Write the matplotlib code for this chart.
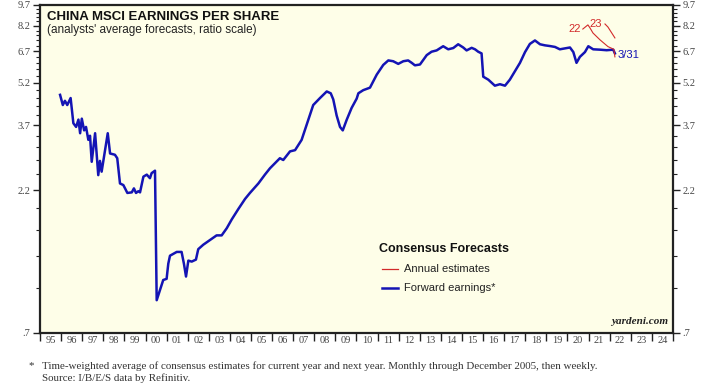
import numpy as np
import matplotlib
matplotlib.use("Agg")
import matplotlib.pyplot as plt
import matplotlib.ticker as ticker

# ── Data ──────────────────────────────────────────────────────────────────────
fwd_years = [1995.95, 1996.08, 1996.18, 1996.29, 1996.45, 1996.58, 1996.71, 1996.82,
             1996.90, 1996.98, 1997.09, 1997.18, 1997.29, 1997.37, 1997.45, 1997.61,
             1997.76, 1997.84, 1997.92, 1998.08, 1998.21, 1998.32, 1998.55, 1998.66,
             1998.79, 1998.95, 1999.14, 1999.35, 1999.45, 1999.55, 1999.66, 1999.74,
             1999.90, 2000.06, 2000.21, 2000.29, 2000.45, 2000.53, 2000.69, 2000.84,
             2001.00, 2001.08, 2001.16, 2001.48, 2001.71, 2001.82, 2001.92, 2002.03,
             2002.19, 2002.39, 2002.50, 2002.74, 2003.37, 2003.61, 2003.85, 2004.09,
             2004.40, 2004.72, 2004.95, 2005.35, 2005.66, 2005.90, 2006.37, 2006.53,
             2006.85, 2007.09, 2007.40, 2007.72, 2007.95, 2008.27, 2008.59, 2008.78,
             2008.90, 2009.06, 2009.22, 2009.35, 2009.54, 2009.77, 2010.01, 2010.09,
             2010.32, 2010.64, 2010.96, 2011.27, 2011.51, 2011.74, 2011.98, 2012.22,
             2012.45, 2012.62, 2012.77, 2013.01, 2013.33, 2013.56, 2013.80, 2014.11,
             2014.35, 2014.59, 2014.82, 2015.06, 2015.22, 2015.46, 2015.62, 2015.77,
             2015.93, 2016.01, 2016.25, 2016.41, 2016.56, 2016.80, 2017.04, 2017.27,
             2017.51, 2017.75, 2017.99, 2018.22, 2018.46, 2018.70, 2018.93, 2019.17,
             2019.41, 2019.64, 2019.88, 2020.12, 2020.28, 2020.43, 2020.59, 2020.83,
             2020.99, 2021.22, 2021.54, 2021.86, 2022.17, 2022.25]
fwd_eps = [4.72, 4.35, 4.50, 4.35, 4.60, 3.76, 3.65, 3.87,
           3.47, 3.90, 3.55, 3.65, 3.29, 3.40, 2.76, 3.47,
           2.48, 2.78, 2.55, 3.03, 3.47, 2.95, 2.92, 2.84,
           2.32, 2.29, 2.15, 2.16, 2.23, 2.15, 2.18, 2.16,
           2.45, 2.49, 2.42, 2.52, 2.57, 0.91, 0.99, 1.07,
           1.08, 1.22, 1.30, 1.34, 1.34, 1.22, 1.10, 1.25,
           1.24, 1.26, 1.37, 1.42, 1.53, 1.53, 1.62, 1.74,
           1.89, 2.05, 2.15, 2.32, 2.49, 2.62, 2.84, 2.80,
           3.00, 3.03, 3.29, 3.87, 4.35, 4.60, 4.85, 4.78,
           4.55, 4.00, 3.65, 3.55, 3.87, 4.25, 4.58, 4.78,
           4.90, 5.00, 5.55, 6.00, 6.22, 6.18, 6.05, 6.18,
           6.22, 6.10, 5.98, 6.02, 6.49, 6.67, 6.74, 6.97,
           6.80, 6.87, 7.08, 6.90, 6.74, 6.88, 6.80, 6.67,
           6.58, 5.46, 5.33, 5.20, 5.08, 5.14, 5.08, 5.33,
           5.70, 6.10, 6.65, 7.10, 7.30, 7.08, 7.02, 6.98,
           6.93, 6.80, 6.85, 6.90, 6.65, 6.10, 6.40, 6.65,
           6.97, 6.80, 6.78, 6.75, 6.78, 6.58]

est22_years = [2020.73, 2020.97, 2021.07, 2021.21, 2021.54, 2021.92, 2022.20, 2022.25]
est22_eps = [8.00, 8.27, 8.07, 7.75, 7.34, 6.95, 6.80, 6.40]
est23_years = [2021.78, 2021.92, 2022.16, 2022.25]
est23_eps = [8.33, 8.13, 7.63, 7.45]

yticks = [0.7, 2.2, 3.7, 5.2, 6.7, 8.2, 9.7]
ytick_labels = [".7", "2.2", "3.7", "5.2", "6.7", "8.2", "9.7"]
year_labels = [f"{y % 100:02d}" for y in range(1995, 2025)]

BLUE = "#1414b4"
RED = "#d22a2a"
SERIF = ["Liberation Serif", "DejaVu Serif"]
SANS = ["Liberation Sans", "DejaVu Sans"]

# ── Figure ────────────────────────────────────────────────────────────────────
fig = plt.figure(figsize=(7.2, 3.84), dpi=100)
ax = fig.add_axes([0.0556, 0.133, 0.879, 0.854])
ax.set_facecolor("#fefee8")

ax.plot(fwd_years, fwd_eps, color=BLUE, lw=1.8, solid_joinstyle="round")
ax.plot(est22_years, est22_eps, color=RED, lw=0.8)
ax.plot(est23_years, est23_eps, color=RED, lw=0.8)

ax.set_yscale("log")
ax.set_ylim(0.7, 9.7)
ax.set_xlim(1995, 2025)

# y axis: major every 1.5, minor every 0.3, both sides
ax.yaxis.set_major_locator(ticker.FixedLocator(yticks))
ax.yaxis.set_minor_locator(ticker.FixedLocator(np.arange(0.7, 9.71, 0.3)))
ax.yaxis.set_major_formatter(ticker.FixedFormatter(ytick_labels))
ax.yaxis.set_minor_formatter(ticker.NullFormatter())
ax.tick_params(axis="y", which="both", left=True, right=True, labelleft=True,
               labelright=True, direction="out", color="#222222")
ax.tick_params(axis="y", which="major", length=5, width=1, labelsize=7.5,
               labelcolor="#444444", pad=2)
ax.tick_params(axis="y", which="minor", length=3, width=0.8)

# x axis: ticks at year boundaries, labels centred in each year
ax.xaxis.set_major_locator(ticker.FixedLocator(np.arange(1995, 2026)))
ax.xaxis.set_major_formatter(ticker.NullFormatter())
ax.xaxis.set_minor_locator(ticker.FixedLocator(np.arange(1995.5, 2025, 1.0)))
ax.xaxis.set_minor_formatter(ticker.FixedFormatter(year_labels))
ax.tick_params(axis="x", which="major", direction="out", length=6, width=1,
               color="#222222")
ax.tick_params(axis="x", which="minor", length=0, labelsize=7.5,
               labelcolor="#444444", pad=2)

for lab in ax.get_xticklabels(minor=True) + ax.get_yticklabels():
    lab.set_fontfamily(SERIF)
for lab in ax.yaxis.get_ticklabels(which="major"):
    lab.set_fontfamily(SERIF)

for sp in ax.spines.values():
    sp.set_linewidth(1.6)
    sp.set_color("#222222")

# ── Text ──────────────────────────────────────────────────────────────────────
ax.text(0.011, 0.982, "CHINA MSCI EARNINGS PER SHARE", transform=ax.transAxes,
        fontsize=9.5, fontweight="bold", family=SANS, va="top", color="#111111")
ax.text(0.011, 0.942, "(analysts' average forecasts, ratio scale)",
        transform=ax.transAxes, fontsize=8.5, family=SANS, va="top",
        color="#222222")
ax.text(0.993, 0.02, "yardeni.com", transform=ax.transAxes, fontsize=8,
        fontweight="bold", fontstyle="italic", family=SERIF, ha="right",
        va="bottom", color="#222222")

ax.text(est22_years[0] - 0.1, est22_eps[0], "22", color=RED, fontsize=8,
        family=SANS, ha="right", va="center")
ax.text(est23_years[0] - 0.15, est23_eps[0], "23", color=RED, fontsize=8,
        family=SANS, ha="right", va="center")
ax.text(fwd_years[-1] + 0.12, fwd_eps[-1] * 0.985, "3/31", color=BLUE,
        fontsize=8, family=SANS, ha="left", va="center")

# legend (drawn by hand like the original)
ax.text(0.535, 0.255, "Consensus Forecasts", transform=ax.transAxes,
        fontsize=9, fontweight="bold", family=SANS, va="center", color="#111111")
ax.plot([0.541, 0.566], [0.195, 0.195], transform=ax.transAxes, color=RED, lw=0.9)
ax.text(0.575, 0.195, "Annual estimates", transform=ax.transAxes, fontsize=8,
        family=SANS, va="center", color="#222222")
ax.plot([0.541, 0.566], [0.137, 0.137], transform=ax.transAxes, color=BLUE, lw=1.8)
ax.text(0.575, 0.137, "Forward earnings*", transform=ax.transAxes, fontsize=8,
        family=SANS, va="center", color="#222222")

fig.text(0.040, 0.047, "*", fontsize=7.9, family=SERIF, va="center", color="#333333")
fig.text(0.058, 0.047,
         "Time-weighted average of consensus estimates for current year and next year. "
         "Monthly through December 2005, then weekly.",
         fontsize=7.9, family=SERIF, va="center", color="#333333")
fig.text(0.058, 0.015, "Source: I/B/E/S data by Refinitiv.", fontsize=7.9,
         family=SERIF, va="center", color="#333333")

fig.savefig("out.png", dpi=100)
